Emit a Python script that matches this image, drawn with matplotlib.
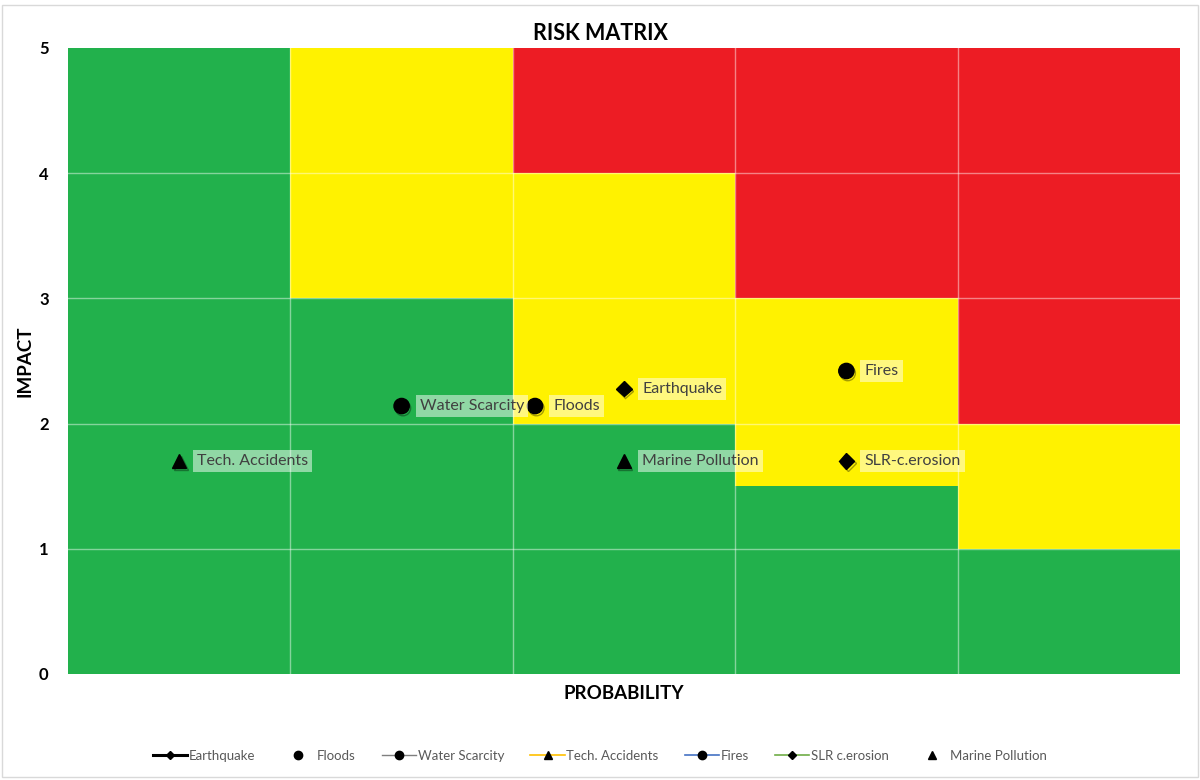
import matplotlib
matplotlib.use("Agg")
import matplotlib.pyplot as plt
import matplotlib.patheffects as pe
from matplotlib.colors import ListedColormap
from matplotlib.lines import Line2D
from matplotlib.patches import Rectangle
import numpy as np

plt.rcParams['font.family'] = ['Lato', 'DejaVu Sans']

# risk zones: 0 green, 1 yellow, 2 red
x_edges = [0, 1, 2, 3, 4, 5]
y_edges = [0, 1, 1.5, 2, 3, 4, 5]
zones = [
    [0, 0, 0, 0, 0],
    [0, 0, 0, 0, 1],
    [0, 0, 0, 1, 1],
    [0, 0, 1, 1, 2],
    [0, 1, 1, 2, 2],
    [0, 1, 2, 2, 2],
]
zone_colors = ['#22B14C', '#FFF200', '#ED1C24']

# risks
names = ["Earthquake", "Floods", "Water Scarcity", "Tech. Accidents",
         "Fires", "SLR-c.erosion", "Marine Pollution"]
legend_names = ["Earthquake", "Floods", "Water Scarcity", "Tech. Accidents",
                "Fires", "SLR c.erosion", "Marine Pollution"]
probability = [2.5, 2.1, 1.5, 0.5, 3.5, 3.5, 2.5]
impact = [2.28, 2.14, 2.14, 1.70, 2.42, 1.70, 1.70]
markers = ['D', 'o', 'o', '^', 'o', 'D', '^']
sizes = [8, 11, 11, 10, 11, 8, 10]
legend_lines = ['black', None, '#7f7f7f', '#FFC000', '#4472C4', '#70AD47', None]
legend_lw = [2.2, 0, 1, 1.2, 1.2, 1.2, 0]
legend_ms = [4, 6, 6, 6, 6, 4, 6]

fig = plt.figure(figsize=(12, 7.8), dpi=100)
ax = fig.add_axes([0.0567, 0.1359, 0.9266, 0.8026])

ax.pcolormesh(x_edges, y_edges, np.array(zones), cmap=ListedColormap(zone_colors),
              vmin=0, vmax=2, shading='flat')

for v in range(1, 5):
    ax.axvline(v, color='white', lw=1, alpha=0.45, zorder=2)
    ax.axhline(v, color='white', lw=1, alpha=0.45, zorder=2)

shadow = [pe.SimpleLineShadow(offset=(1, -1.5), alpha=0.35), pe.Normal()]
for i in range(len(names)):
    ax.plot(probability[i], impact[i], marker=markers[i], ms=sizes[i],
            color='black', ls='none', zorder=4, path_effects=shadow)
    ax.annotate(names[i], (probability[i], impact[i]), xytext=(13, 0),
                textcoords='offset points', va='center', ha='left',
                fontsize=11.5, color='#404040', zorder=5,
                bbox=dict(boxstyle='square,pad=0.25', fc='white', ec='none', alpha=0.5))

ax.set_xlim(0, 5)
ax.set_ylim(0, 5)
ax.set_xticks([])
ax.set_yticks(range(6))
ax.tick_params(axis='y', length=0, pad=14, labelsize=12)
for lab in ax.get_yticklabels():
    lab.set_fontweight('bold')
for s in ax.spines.values():
    s.set_visible(False)

fig.text(0.5, 0.957, "RISK MATRIX", fontsize=15.5, fontweight='bold',
         ha='center', va='center')
ax.set_xlabel("PROBABILITY", fontsize=13.5, fontweight='bold', labelpad=8)
ax.set_ylabel("IMPACT", fontsize=13.5, fontweight='bold', labelpad=4)

handles = []
for i in range(len(legend_names)):
    handles.append(Line2D([0], [0], color=legend_lines[i] or 'black',
                          lw=legend_lw[i], marker=markers[i],
                          ms=legend_ms[i], mfc='black', mec='black'))
fig.legend(handles, legend_names, loc='center', bbox_to_anchor=(0.5, 0.031),
           ncol=7, frameon=False, fontsize=9.5, labelcolor='#595959',
           handlelength=2.6, handletextpad=0.1, columnspacing=2.0)

fig.patches.append(Rectangle((0.002, 0.004), 0.996, 0.99, transform=fig.transFigure,
                             fill=False, ec='#d9d9d9', lw=1))

fig.savefig("out.png", dpi=100)
